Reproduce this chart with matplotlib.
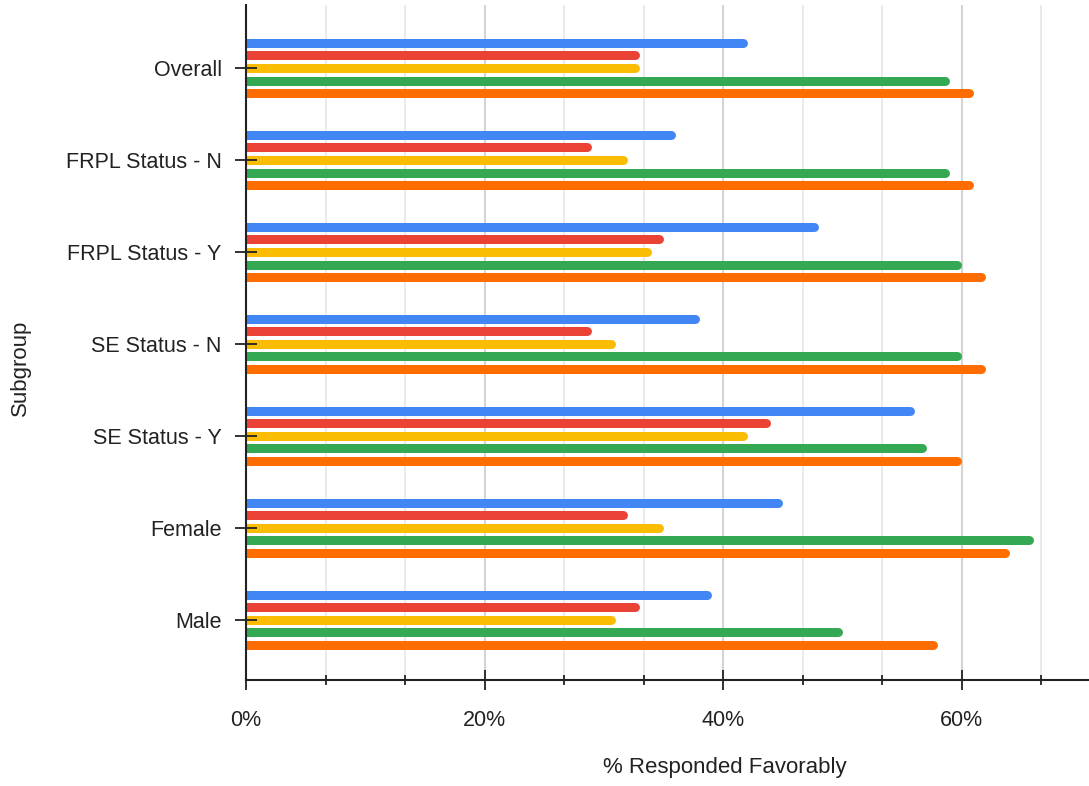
import matplotlib; matplotlib.use("Agg")
import matplotlib.pyplot as plt
from matplotlib.ticker import MultipleLocator, PercentFormatter
import numpy as np

plt.rcParams["font.family"] = ["Liberation Sans", "DejaVu Sans"]

subgroups = ["Overall", "FRPL Status - N", "FRPL Status - Y", "SE Status - N",
             "SE Status - Y", "Female", "Male"]
blue_vals = [42, 36, 48, 38, 56, 45, 39]
red_vals = [33, 29, 35, 29, 44, 32, 33]
yellow_vals = [33, 32, 34, 31, 42, 35, 31]
green_vals = [59, 59, 60, 60, 57, 66, 50]
orange_vals = [61, 61, 62, 62, 60, 64, 58]

series = [blue_vals, red_vals, yellow_vals, green_vals, orange_vals]
colors = ["#4285F4", "#EA4335", "#FBBC04", "#34A853", "#FF6D01"]

W, H, DPI = 1089, 786, 100
fig = plt.figure(figsize=(W / DPI, H / DPI), dpi=DPI)
ax = fig.add_axes([246 / W, 106 / H, 843 / W, 675 / H])

xmax = 70.66
ax.set_xlim(0, xmax)
ax.set_ylim(len(subgroups) - 1 + 0.655, -0.685)

# vertical gridlines drawn by hand so the axis ticks can sit above the bars
minor_pos = np.arange(0, xmax, 20 / 3)
for x in minor_pos:
    major = abs(x / 20 - round(x / 20)) < 1e-6
    ax.axvline(x, color="#d4d4d4" if major else "#e6e6e6",
               linewidth=1.5 if major else 1.2, zorder=0.5)

bar_px = 9
lw_pt = bar_px * 72 / DPI
cap = (bar_px / 2) * xmax / 843  # round end stays inside the value
step = 0.137
y = np.arange(len(subgroups))
for k, (vals, c) in enumerate(zip(series, colors)):
    yy = y + (k - 2) * step
    ax.hlines(yy, 0, np.array(vals) - cap, colors=c, linewidth=lw_pt,
              capstyle="round", zorder=1.5)

ax.set_axisbelow(False)
ax.xaxis.set_major_locator(MultipleLocator(20))
ax.xaxis.set_minor_locator(MultipleLocator(20 / 3))
ax.xaxis.set_major_formatter(PercentFormatter(decimals=0))

ax.set_yticks(y)
ax.set_yticklabels(subgroups)
ax.tick_params(axis="y", direction="inout", length=16, width=1.3, color="#222222",
               labelsize=15.5, labelcolor="#222222", pad=9.5)
ax.tick_params(axis="x", which="major", direction="inout", length=15, width=1.3,
               color="#222222", labelsize=15.5, labelcolor="#222222", pad=14)
ax.tick_params(axis="x", which="minor", direction="inout", length=7, width=1.3,
               color="#222222")

for s in ["top", "right"]:
    ax.spines[s].set_visible(False)
for s in ["left", "bottom"]:
    ax.spines[s].set_color("#222222")
    ax.spines[s].set_linewidth(1.5)

fig.text(725 / W, 1 - 768 / H, "% Responded Favorably", ha="center", va="center",
         fontsize=16, color="#222222")
fig.text(20 / W, 1 - 368 / H, "Subgroup", ha="center", va="center", rotation=90,
         fontsize=16, color="#222222")

fig.savefig("out.png", dpi=DPI)
